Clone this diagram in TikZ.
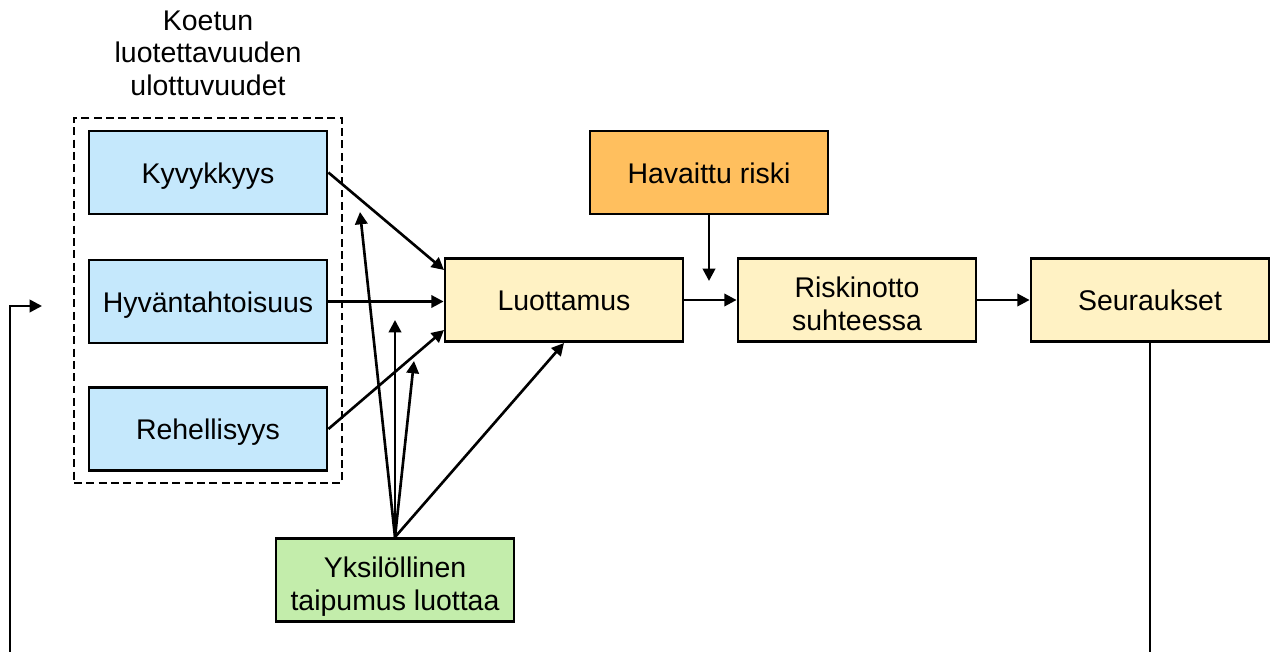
\documentclass[tikz,border=0pt]{standalone}
\usepackage{fontspec}
\setmainfont{Liberation Sans}
\usetikzlibrary{arrows.meta}
\definecolor{cblue}{HTML}{C5E8FC}
\definecolor{cyellow}{HTML}{FFF2C4}
\definecolor{corange}{HTML}{FFBF5E}
\definecolor{cgreen}{HTML}{C3EDAB}
\tikzset{
  px/.style={x=0.02cm,y=-0.02cm},
  box/.style={draw=black,line width=1.6pt,minimum width=4.76cm,minimum height=1.66cm,align=center,inner sep=0pt,font=\fontsize{16.2}{18.5}\selectfont,text height=12pt,text depth=0pt},
  twoline/.style={text height=38pt,text depth=3.4pt},
  arr/.style={line width=1.5pt,-{Triangle[length=7pt,width=7pt]}}
}
\begin{document}
\begin{tikzpicture}[px]
\useasboundingbox (0,0) rectangle (1271,652);
% dashed group
\node[draw,line width=1.5pt,dash pattern=on 4.5pt off 2.5pt,minimum width=5.36cm,minimum height=7.3cm,inner sep=0pt] (grp) at (208,300.5) {};
\node[align=center,font=\fontsize{16.2}{18.5}\selectfont] (title) at (208,53) {Koetun\\luotettavuuden\\ulottuvuudet};
\node[box,fill=cblue] (kyv) at (208,172.5) {Kyvykkyys};
\node[box,fill=cblue] (hyv) at (208,301.5) {Hyväntahtoisuus};
\node[box,fill=cblue] (reh) at (208,429) {Rehellisyys};
\node[box,fill=cyellow] (luo) at (564,300) {Luottamus};
\node[box,fill=corange] (hav) at (709,172.5) {Havaittu riski};
\node[box,twoline,fill=cyellow] (ris) at (857,300) {Riskinotto\\suhteessa};
\node[box,fill=cyellow] (seu) at (1150,300) {Seuraukset};
\node[box,twoline,fill=cgreen] (yks) at (395,580) {Yksilöllinen\\taipumus luottaa};
% arrows
\draw[arr] (kyv.east) -- (444,270);
\draw[arr] (hyv.east) -- (luo.west |- hyv.east);
\draw[arr] (reh.east) -- (444,330);
\coordinate (y1) at (360,212);
\coordinate (y2) at (395,320);
\coordinate (y3) at (414,361);
\draw[arr] (yks.north) -- (y1);
\draw[arr] (yks.north) -- (y2);
\draw[arr] (yks.north) -- (y3);
\draw[arr] (yks.north) -- (564,343);
\coordinate (havend) at (709,281);
\draw[arr] (hav.south) -- (havend);
\draw[arr] (luo.east) -- (ris.west);
\draw[arr] (ris.east) -- (seu.west);
\coordinate (fb) at (42,306);
\draw[arr] (seu.south) -- (1150,660) -- (10,660) -- (10,306) -- (fb);
\end{tikzpicture}
\end{document}
